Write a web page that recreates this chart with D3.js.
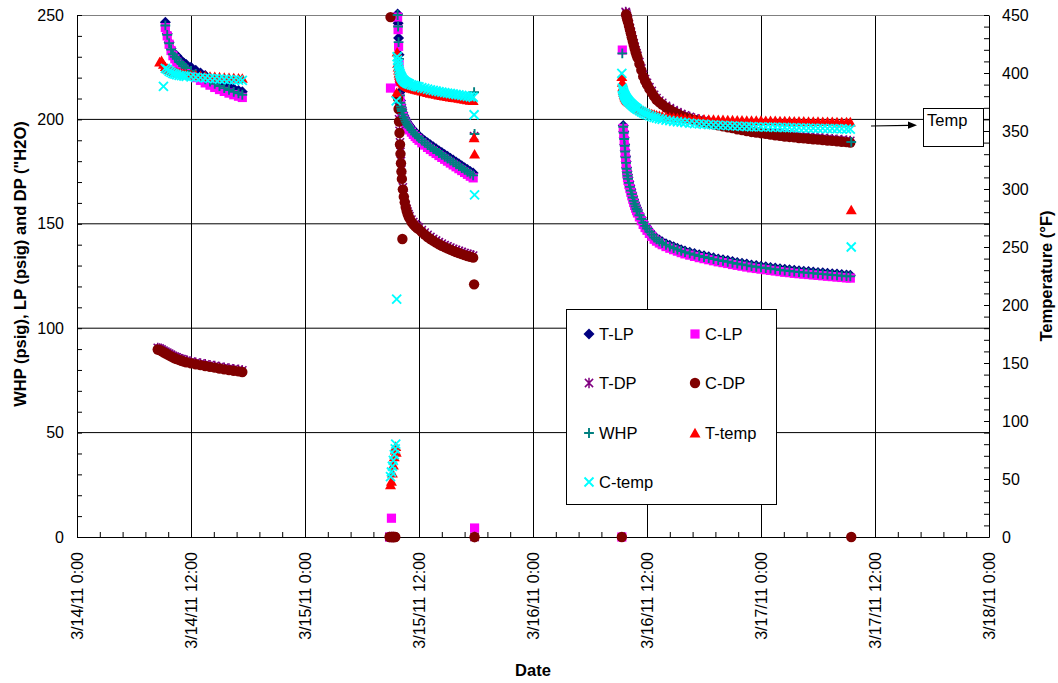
<!DOCTYPE html>
<html>
<head>
<meta charset="utf-8">
<script src="https://cdn.jsdelivr.net/npm/d3@7"></script>
<style>
  html, body { margin: 0; padding: 0; background: #fff; }
  svg { display: block; font-family: Arial, "Liberation Sans", sans-serif; }
</style>
</head>
<body>
<svg id="chart" width="1058" height="683"></svg>
<script>
// ---- Logged readings: hours after 3/14/11 0:00, one time list per run ----
const seg1Hours = [8.5, 8.7, 8.9, 9.1, 9.3, 9.5, 9.7, 9.9, 10.1, 10.3, 10.5, 10.75, 11, 11.25,
  11.5, 12, 12.5, 13, 13.5, 14, 14.5, 15, 15.5, 16, 16.5, 17, 17.4];

const seg2Hours = [32.9, 33.0, 33.1, 33.2, 33.3, 33.4, 33.5, 33.55, 33.6, 33.65, 33.7,
  33.75, 33.8, 33.85, 33.9, 33.95, 34.0, 34.05, 34.1, 34.15, 34.2, 34.25,
  34.3, 34.4, 34.5, 34.6, 34.7, 34.8, 34.9, 35.0, 35.2, 35.4, 35.6, 35.8,
  36.0, 36.3, 36.6, 36.9, 37.2, 37.5, 37.8, 38.1, 38.4, 38.7, 39.0, 39.3,
  39.6, 39.9, 40.2, 40.5, 40.8, 41.1, 41.4, 41.7, 41.8, 41.85];

const seg3Hours = [57.35, 57.4, 57.45, 57.5, 57.55, 57.6, 57.65, 57.7, 57.75, 57.8,
  57.85, 57.9, 57.95, 58.0, 58.1, 58.2, 58.3, 58.4, 58.5, 58.6,
  58.7, 58.8, 58.9, 59.0, 59.2, 59.4, 59.6, 59.8, 60.0, 60.25,
  60.5, 60.75, 61.0, 61.3, 61.6, 62.0, 62.4, 62.8, 63.2, 63.6,
  64.0, 64.5, 65.0, 65.5, 66.0, 66.5, 67.0, 67.5, 68.0, 68.5,
  69.0, 69.5, 70.0, 70.5, 71.0, 71.5, 72.0, 72.5, 73.0, 73.5,
  74.0, 74.5, 75.0, 75.5, 76.0, 76.5, 77.0, 77.5, 78.0, 78.5,
  79.0, 79.5, 80.0, 80.5, 81.0, 81.4, 81.5];

// ---- T-LP (psig) ----
const tLP1 = [null, null, null, null, 246.5, 241, 237, 234, 232, 231, 230.5, 229, 228, 227,
  226.3, 225, 223.5, 222.2, 221, 219.8, 218.7, 217.6, 216.6, 215.6, 214.7, 213.9, 213.2];
const tLP2 = [null, null, null, null, null, null, null, null, null, null, null,
  250.5, 246, 239, 231, 222, 213, 209, 207, 205.8, 204.8, null,
  203.2, 201.9, 200.8, 199.8, 199, 198.2, 197.5, 196.9, 195.8, 194.8, 193.8, 192.9,
  192.1, 190.9, 189.8, 188.8, 187.8, 186.9, 186, 185, 184.1, 183.2, 182.3, 181.4,
  180.5, 179.6, 178.7, 177.8, 176.9, 176, 175.1, 174.3, null, null];
const tLP3 = [null, null, null, 197.1, 194.2, 191.2, 188, 185.2, 182.4, 179.8,
  177, 175.2, 173.6, 172.2, 170.2, 168.3, 166.5, 164.8, 163.2, 161.6,
  160.2, 158.9, 157.7, 156.6, 154.7, 152.9, 151.1, 149.6, 148.3, 146.8,
  145.4, 144, 143.1, 142.2, 141.4, 140.5, 139.7, 139, 138.3, 137.6,
  137, 136.4, 135.8, 135.2, 134.7, 134.2, 133.7, 133.2, 132.8, 132.4,
  131.9, 131.5, 131.1, 130.7, 130.3, 130, 129.7, 129.4, 129.1, 128.8,
  128.5, 128.2, 128, 127.7, 127.5, 127.3, 127.1, 126.9, 126.7, 126.5,
  126.3, 126.1, 125.9, 125.7, 125.5, 125.4, null];

// ---- C-LP (psig) ----
const cLP1 = [null, null, null, null, 244, 240, 236, 233, 230.5, 229, 227.5, 226, 225, 224,
  223, 221.5, 220, 218.7, 217.5, 216.4, 215.3, 214.3, 213.4, 212.6, 211.8, 211.1, 210.5];
const cLP2 = [0, 215, 9, 0, null, null, null, null, null, null, null,
  249, 243, 235, 227, 218, 210, 207, 205.3, 204.1, 203.1, null,
  201.5, 200.2, 199.1, 198.1, 197.2, 196.4, 195.7, 195, 193.9, 192.8, 191.8, 190.9,
  190, 188.8, 187.7, 186.6, 185.6, 184.6, 183.7, 182.7, 181.8, 180.9, 180, 179.1,
  178.2, 177.3, 176.4, 175.5, 174.6, 173.7, 172.8, 172, null, 4.3];
const cLP3 = [0, 233.2, null, 195.7, 192.8, 189.8, 186.6, 183.8, 181, 178.4,
  175.6, 173.8, 172.2, 170.8, 168.8, 166.9, 165.1, 163.4, 161.8, 160.2,
  158.8, 157.5, 156.3, 155.2, 153.3, 151.5, 149.7, 148.2, 146.9, 145.4,
  144, 142.6, 141.7, 140.8, 140, 139.1, 138.3, 137.6, 136.9, 136.2,
  135.6, 135, 134.4, 133.8, 133.3, 132.8, 132.3, 131.8, 131.4, 131,
  130.5, 130.1, 129.7, 129.3, 128.9, 128.6, 128.3, 128, 127.7, 127.4,
  127.1, 126.8, 126.6, 126.3, 126.1, 125.9, 125.7, 125.5, 125.3, 125.1,
  124.9, 124.7, 124.5, 124.3, 124.1, 124, null];

// ---- T-DP ("H2O) ----
const tDP1 = [90.6, 90.3, 89.8, 89.3, 88.8, 88.3, 87.8, 87.3, 86.8, 86.4, 86, 85.6, 85.2, 84.8,
  84.5, 84, 83.5, 83.1, 82.7, 82.3, 81.9, 81.5, 81.1, 80.7, 80.4, 80.1, 79.8];
const tDP2 = [0, null, 0, null, 0, null, null, null, null, null, null,
  null, 211, 206, 200, 194.5, 189, 184.5, 180, 176, 172.5, null,
  167.5, 164, 161.3, 159, 157.2, 155.8, 154.6, 153.6, 152, 150.8, 149.8, 149,
  148.3, 147, 145.8, 144.7, 143.7, 142.8, 142, 141.2, 140.5, 139.8, 139.2, 138.6,
  138, 137.5, 137, 136.5, 136, 135.6, 135.2, 134.8, 192, 0];
const tDP3 = [null, null, null, null, null, null, null, null, 251.5, 251.1,
  250.2, 249.3, 248.4, 247.5, 245.6, 243.8, 242, 240.1, 238.3, 236.5,
  234.8, 233.1, 231.7, 230.4, 227.4, 224.4, 221.4, 219.3, 217.5, 215.4,
  213.6, 211.8, 210.2, 209, 207.9, 206.5, 205.4, 204.4, 203.5, 202.6,
  201.9, 201.2, 200.5, 199.9, 199.4, 198.9, 198.4, 198, 197.5, 197,
  196.6, 196.1, 195.7, 195.2, 194.8, 194.5, 194.2, 193.9, 193.5, 193.2,
  192.9, 192.6, 192.4, 192.2, 191.9, 191.7, 191.5, 191.3, 191.1, 190.9,
  190.7, 190.5, 190.3, 190.1, 189.9, 189.7, null];

// ---- C-DP ("H2O) ----
const cDP1 = [89.8, 89.5, 89, 88.5, 88, 87.5, 87, 86.5, 86, 85.6, 85.2, 84.8, 84.4, 84,
  83.7, 83.2, 82.7, 82.3, 81.9, 81.5, 81.1, 80.7, 80.3, 79.9, 79.6, 79.3, 79.0];
const cDP2 = [0, 249, 0, 0, 0, 0, 0, null, null, null, null,
  null, 210, 205, 199, 193.5, 188, 183.5, 179, 175, 171.5, 142.7,
  166.5, 163, 160.3, 158, 156.2, 154.8, 153.6, 152.6, 151, 149.8, 148.8, 148,
  147.3, 146, 144.8, 143.7, 142.7, 141.8, 141, 140.2, 139.5, 138.8, 138.2, 137.6,
  137, 136.5, 136, 135.5, 135, 134.6, 134.2, 133.8, 121, 0];
const cDP3 = [0, null, null, null, null, null, null, null, null, 250.3,
  249.4, 248.5, 247.6, 246.7, 244.8, 243, 241.2, 239.3, 237.5, 235.7,
  234, 232.3, 230.9, 229.6, 226.6, 223.6, 220.6, 218.5, 216.7, 214.6,
  212.8, 211, 209.4, 208.2, 207.1, 205.7, 204.6, 203.6, 202.7, 201.8,
  201.1, 200.4, 199.7, 199.1, 198.6, 198.1, 197.6, 197.2, 196.7, 196.2,
  195.8, 195.3, 194.9, 194.4, 194, 193.7, 193.4, 193.1, 192.7, 192.4,
  192.1, 191.8, 191.6, 191.4, 191.1, 190.9, 190.7, 190.5, 190.3, 190.1,
  189.9, 189.7, 189.5, 189.3, 189.1, 188.9, 0];

// ---- WHP (psig) ----
const whp1 = [null, null, null, null, 245, 240.5, 236.5, 233.5, 231.2, 230, 229, 227.5, 226.5,
  225.5, 224.6, 223.2, 221.8, 220.4, 219.2, 218.1, 217, 216, 215, 214.1, 213.2, 212.5, 211.8];
const whp2 = [null, null, null, null, null, null, null, null, null, null, null,
  250, 244.5, 237, 229, 220, 211.5, 208, 206.2, 205, 204, null,
  202.4, 201.1, 200, 199, 198.1, 197.3, 196.6, 196, 194.9, 193.8, 192.8, 191.9,
  191.1, 189.9, 188.8, 187.7, 186.7, 185.8, 184.9, 183.9, 183, 182.1, 181.2, 180.3,
  179.4, 178.5, 177.6, 176.7, 175.8, 174.9, 174, 173.2, 213, 193];
const whp3 = [null, 231.6, null, 196.5, 193.6, 190.6, 187.4, 184.6, 181.8, 179.2,
  176.4, 174.6, 173, 171.6, 169.6, 167.7, 165.9, 164.2, 162.6, 161,
  159.6, 158.3, 157.1, 156, 154.1, 152.3, 150.5, 149, 147.7, 146.2,
  144.8, 143.4, 142.5, 141.6, 140.8, 139.9, 139.1, 138.4, 137.7, 137,
  136.4, 135.8, 135.2, 134.6, 134.1, 133.6, 133.1, 132.6, 132.2, 131.8,
  131.3, 130.9, 130.5, 130.1, 129.7, 129.4, 129.1, 128.8, 128.5, 128.2,
  127.9, 127.6, 127.4, 127.1, 126.9, 126.7, 126.5, 126.3, 126.1, 125.9,
  125.7, 125.5, 125.3, 125.1, 124.9, 124.8, 189.2];

// ---- T-temp (°F) ----
const tTemp1 = [null, 409.5, 410.5, 407.5, 405.5, 404, 403, 402, 401.3, 400.8, 400.4, 400, 399.6,
  399.3, 399, 398.5, 398.1, 397.7, 397.4, 397.1, 396.8, 396.5, 396.2, 396, 395.8, 395.6, 395.4];
const tTemp2 = [null, 45, 48, 55, 62, 69, 75, 78, 73, 383, 418,
  408, 405, 402.5, 400, 398, 396.5, 395.2, 394.1, 393.2, 392.5, null,
  391.3, 390.4, 389.7, 389.1, 388.6, 388.2, 387.8, 387.4, 386.8, 386.3, 385.8, 385.4,
  385, 384.3, 383.7, 383.1, 382.5, 382, 381.5, 381, 380.5, 380.1, 379.7, 379.3,
  378.9, 378.5, 378.1, 377.7, 377.3, 376.9, 376.5, 376.1, 344, 330];
const tTemp3 = [396.8, 392, 388, 385, 383, 381.5, 380.3, 379.3, 378.5, 377.8,
  377.2, 376.7, 376.2, 375.8, 375.2, 374.5, 373.8, 373.1, 372.5, 371.9,
  371.3, 370.8, 370.3, 369.8, 368.9, 368, 367.3, 366.6, 366, 365.3,
  364.7, 364.2, 363.7, 363.2, 362.8, 362.3, 361.9, 361.6, 361.3, 361,
  360.8, 360.6, 360.4, 360.2, 360.1, 360, 359.9, 359.8, 359.7, 359.6,
  359.5, 359.4, 359.3, 359.2, 359.1, 359.1, 359, 358.9, 358.9, 358.8,
  358.7, 358.7, 358.6, 358.5, 358.5, 358.4, 358.3, 358.3, 358.2, 358.1,
  358.1, 358, 357.9, 357.9, 357.8, 357.7, 282];

// ---- C-temp (°F) ----
const cTemp1 = [null, null, null, 388.5, 404, 403, 401.5, 400.5, 399.6, 399, 398.5, 398, 397.7,
  397.4, 397.1, 396.7, 396.3, 396, 395.7, 395.4, 395.1, 394.8, 394.6, 394.3, 394.1, 393.9, 393.7];
const cTemp2 = [null, 52, 56, 61, 66, 71, 76, 80, 376, 205, 414,
  411, 408, 405.5, 403, 401, 399.5, 398.2, 397.1, 396.2, 395.5, null,
  394.3, 393.4, 392.7, 392.1, 391.6, 391.2, 390.8, 390.4, 389.8, 389.3, 388.8, 388.4,
  388, 387.3, 386.7, 386.1, 385.5, 385, 384.5, 384, 383.5, 383.1, 382.7, 382.3,
  381.9, 381.5, 381.1, 380.7, 380.3, 379.9, 379.5, 379.1, 364, 295];
const cTemp3 = [399.7, 387, 385.5, 384, 382.8, 381.7, 380.7, 379.8, 379, 378.3,
  377.7, 377.1, 376.6, 376.1, 375.2, 374.3, 373.5, 372.7, 371.9, 371.2,
  370.5, 369.9, 369.3, 368.7, 367.6, 366.6, 365.7, 364.9, 364.1, 363.3,
  362.5, 361.8, 361.2, 360.6, 360, 359.4, 358.9, 358.4, 358, 357.6,
  357.2, 356.8, 356.4, 356.1, 355.8, 355.5, 355.3, 355, 354.8, 354.6,
  354.4, 354.2, 354, 353.9, 353.7, 353.6, 353.5, 353.4, 353.3, 353.2,
  353.1, 353, 352.9, 352.8, 352.7, 352.6, 352.5, 352.4, 352.3, 352.2,
  352.1, 352, 351.9, 351.8, 351.7, 351.6, 250];

// ---- Axis ticks ----
const leftTicks = [0, 50, 100, 150, 200, 250];
const rightTicks = [0, 50, 100, 150, 200, 250, 300, 350, 400, 450];
const dateTickHours = [0, 12, 24, 36, 48, 60, 72, 84, 96];

// ---- Series styling ----
const segmentHours = [seg1Hours, seg2Hours, seg3Hours];
const seriesList = [
  { name: "T-LP",   axis: "left",  values: [tLP1, tLP2, tLP3],       color: "#000080", shape: "diamond" },
  { name: "C-LP",   axis: "left",  values: [cLP1, cLP2, cLP3],       color: "#FF00FF", shape: "square" },
  { name: "T-DP",   axis: "left",  values: [tDP1, tDP2, tDP3],       color: "#800080", shape: "star" },
  { name: "C-DP",   axis: "left",  values: [cDP1, cDP2, cDP3],       color: "#800000", shape: "circle" },
  { name: "WHP",    axis: "left",  values: [whp1, whp2, whp3],       color: "#008080", shape: "plus" },
  { name: "T-temp", axis: "right", values: [tTemp1, tTemp2, tTemp3], color: "#FF0000", shape: "triangle" },
  { name: "C-temp", axis: "right", values: [cTemp1, cTemp2, cTemp3], color: "#00FFFF", shape: "cross" }
];

const markerShapes = {
  diamond:  { d: "M0,-5.5L5.5,0L0,5.5L-5.5,0Z", filled: true },
  square:   { d: "M-4.6,-4.6H4.6V4.6H-4.6Z", filled: true },
  star:     { d: "M-4.1,-4.1L4.1,4.1M-4.1,4.1L4.1,-4.1M0,-5.2V5.2", filled: false, width: 1.5 },
  circle:   { d: "M5.2,0A5.2,5.2 0 1,1 -5.2,0A5.2,5.2 0 1,1 5.2,0Z", filled: true },
  plus:     { d: "M-4.9,0H4.9M0,-4.9V4.9", filled: false, width: 1.9 },
  triangle: { d: "M0,-5.2L5.5,4.4L-5.5,4.4Z", filled: true },
  cross:    { d: "M-4.5,-4.5L4.5,4.5M-4.5,4.5L4.5,-4.5", filled: false, width: 1.9 }
};

function styleMarker(sel, s) {
  const m = markerShapes[s.shape];
  sel.attr("d", m.d);
  if (m.filled) sel.attr("fill", s.color).attr("stroke", "none");
  else sel.attr("fill", "none").attr("stroke", s.color).attr("stroke-width", m.width);
}

// ---- Layout ----
const W = 1058, H = 683;
const plot = { left: 77, right: 989, top: 15, bottom: 537 };
const origin = new Date(2011, 2, 14, 0, 0, 0);
const toDate = h => new Date(origin.getTime() + h * 3600000);
const fmt = d3.timeFormat("%-m/%-d/%y %-H:%M");
const FONT = 'Arial, "Liberation Sans", sans-serif';

const x = d3.scaleTime().domain([toDate(0), toDate(96)]).range([plot.left, plot.right]);
const yLeft = d3.scaleLinear().domain([0, 250]).range([plot.bottom, plot.top]);
const yRight = d3.scaleLinear().domain([0, 450]).range([plot.bottom, plot.top]);

const svg = d3.select("#chart");
svg.append("rect").attr("width", W).attr("height", H).attr("fill", "#fff");

// Gridlines
const grid = svg.append("g");
grid.selectAll(".hgrid").data(leftTicks.filter(v => v > 0 && v < 250)).join("line")
  .attr("x1", plot.left).attr("x2", plot.right)
  .attr("y1", d => yLeft(d)).attr("y2", d => yLeft(d))
  .attr("stroke", "#000").attr("stroke-width", 1);
grid.selectAll(".vgrid").data(dateTickHours.filter(h => h > 0 && h < 96)).join("line")
  .attr("x1", d => x(toDate(d)) + 0.5).attr("x2", d => x(toDate(d)) + 0.5)
  .attr("y1", plot.top).attr("y2", plot.bottom)
  .attr("stroke", "#000").attr("stroke-width", 1);
// top edge of the plot area
grid.append("line")
  .attr("x1", plot.left).attr("x2", plot.right)
  .attr("y1", plot.top + 0.5).attr("y2", plot.top + 0.5)
  .attr("stroke", "#808080").attr("stroke-width", 1);

// Axis lines with minor tick marks pointing into the plot
const minorHours = d3.range(0, 96.001, 2.4);
svg.append("g").attr("transform", `translate(${plot.left},0)`)
  .call(d3.axisLeft(yLeft).tickValues(d3.range(0, 251, 10)).tickSize(-5).tickSizeOuter(0).tickFormat(""))
  .call(g => g.selectAll("path,line").attr("stroke", "#000"));
svg.append("g").attr("transform", `translate(${plot.right},0)`)
  .call(d3.axisRight(yRight).tickValues(d3.range(0, 451, 10)).tickSize(-5).tickSizeOuter(0).tickFormat(""))
  .call(g => g.selectAll("path,line").attr("stroke", "#000"));
svg.append("g").attr("transform", `translate(0,${plot.bottom})`)
  .call(d3.axisBottom(x).tickValues(minorHours.map(toDate)).tickSize(-5).tickSizeOuter(0).tickFormat(""))
  .call(g => g.selectAll("path,line").attr("stroke", "#000"));

// Tick labels
const labelAxis = g => {
  g.select(".domain").remove();
  g.attr("font-family", FONT).attr("font-size", 16);
  g.selectAll("text").attr("fill", "#000");
};
svg.append("g").attr("transform", `translate(${plot.left},0)`)
  .call(d3.axisLeft(yLeft).tickValues(leftTicks).tickSize(0).tickPadding(13))
  .call(labelAxis);
svg.append("g").attr("transform", `translate(${plot.right},0)`)
  .call(d3.axisRight(yRight).tickValues(rightTicks).tickSize(0).tickPadding(13))
  .call(labelAxis);
svg.append("g").attr("transform", `translate(0,${plot.bottom})`)
  .call(d3.axisBottom(x).tickValues(dateTickHours.map(toDate)).tickSize(0).tickFormat(fmt))
  .call(labelAxis)
  .call(g => g.selectAll("text")
    .attr("transform", "rotate(-90)")
    .attr("x", -15).attr("y", 0).attr("dy", "0.36em")
    .attr("text-anchor", "end"));

// Data markers, drawn in legend order
seriesList.forEach(s => {
  const yScale = s.axis === "right" ? yRight : yLeft;
  const pts = [];
  segmentHours.forEach((hours, i) => {
    hours.forEach((h, j) => {
      const v = s.values[i][j];
      if (v !== null && v !== undefined) pts.push({ h, v });
    });
  });
  svg.append("g").attr("class", "series")
    .selectAll("path").data(pts).join("path")
    .attr("transform", d => `translate(${x(toDate(d.h))},${yScale(d.v)})`)
    .call(sel => styleMarker(sel, s));
});

// Axis titles
svg.append("text")
  .attr("transform", "translate(20,264) rotate(-90)")
  .attr("text-anchor", "middle").attr("dy", "0.35em")
  .attr("font-family", FONT).attr("font-size", 16.5).attr("font-weight", "bold")
  .text('WHP (psig), LP (psig) and DP ("H2O)');
svg.append("text")
  .attr("transform", "translate(1046,276) rotate(-90)")
  .attr("text-anchor", "middle").attr("dy", "0.35em")
  .attr("font-family", FONT).attr("font-size", 16.5).attr("font-weight", "bold")
  .text("Temperature (°F)");
svg.append("text")
  .attr("x", (plot.left + plot.right) / 2).attr("y", 676)
  .attr("text-anchor", "middle")
  .attr("font-family", FONT).attr("font-size", 16.5).attr("font-weight", "bold")
  .text("Date");

// Legend
const legend = svg.append("g");
legend.append("rect")
  .attr("x", 566.5).attr("y", 309.5).attr("width", 210).attr("height", 195)
  .attr("fill", "#fff").attr("stroke", "#000").attr("stroke-width", 1);
const legendCols = [589, 695];
const legendRows = [334, 383, 433, 482];
seriesList.forEach((s, i) => {
  const cx = legendCols[i % 2], cy = legendRows[Math.floor(i / 2)];
  legend.append("path").attr("transform", `translate(${cx},${cy})`).call(sel => styleMarker(sel, s));
  legend.append("text")
    .attr("x", cx + 10).attr("y", cy).attr("dy", "0.36em")
    .attr("font-family", FONT).attr("font-size", 16.5)
    .text(s.name);
});

// "Temp" callout for the temperature curves
const callout = svg.append("g");
callout.append("line")
  .attr("x1", 871).attr("y1", 126).attr("x2", 909).attr("y2", 125.3)
  .attr("stroke", "#000").attr("stroke-width", 1.2);
callout.append("path")
  .attr("d", "M917,125.2L908,121.6L908,128.8Z").attr("fill", "#000");
callout.append("rect")
  .attr("x", 923.5).attr("y", 108.5).attr("width", 60).attr("height", 38)
  .attr("fill", "#fff").attr("stroke", "#000").attr("stroke-width", 1);
callout.append("text")
  .attr("x", 927).attr("y", 126)
  .attr("font-family", FONT).attr("font-size", 16.5)
  .text("Temp");
</script>
</body>
</html>
